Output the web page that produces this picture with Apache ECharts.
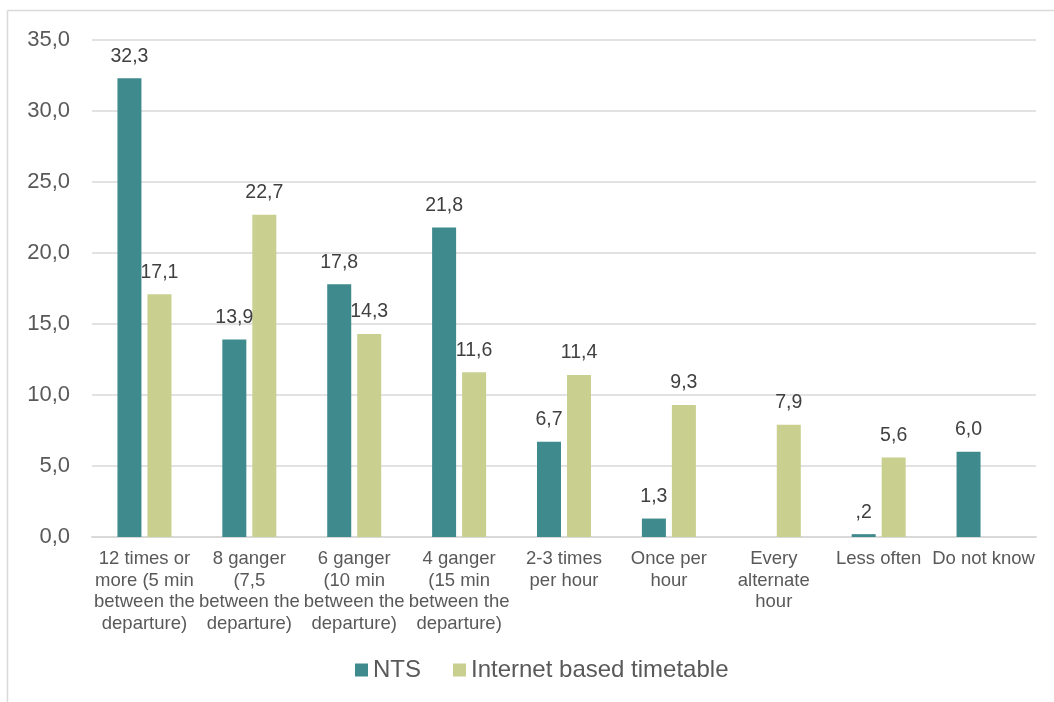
<!DOCTYPE html>
<html>
<head>
<meta charset="utf-8">
<style>
  html, body { margin: 0; padding: 0; background: #ffffff; }
  #chart { width: 1054px; height: 702px; }
</style>
<script src="https://cdn.jsdelivr.net/npm/echarts@6/dist/echarts.min.js"></script>
</head>
<body>
<div id="chart"></div>
<script>
// Departure frequency categories
const categories = [
  '12 times or\nmore (5 min\nbetween the\ndeparture)',
  '8 ganger\n(7,5\nbetween the\ndeparture)',
  '6 ganger\n(10 min\nbetween the\ndeparture)',
  '4 ganger\n(15 min\nbetween the\ndeparture)',
  '2-3 times\nper hour',
  'Once per\nhour',
  'Every\nalternate\nhour',
  'Less often',
  'Do not know'
];

// Percentages per source (null = no value)
const ntsValues = [32.3, 13.9, 17.8, 21.8, 6.7, 1.3, null, 0.2, 6.0];
const internetValues = [17.1, 22.7, 14.3, 11.6, 11.4, 9.3, 7.9, 5.6, null];

const seriesNames = ['NTS', 'Internet based timetable'];
const yTicks = { min: 0, max: 35, interval: 5 };

// Norwegian-style number: comma decimal, leading zero dropped
function fmt(v) {
  let s = Number(v).toFixed(1).replace('.', ',');
  if (s.startsWith('0,') && v !== 0) s = s.slice(1);
  return s;
}

const textColor = '#595959';
const font = 'Liberation Sans, Arial, sans-serif';

const chart = echarts.init(document.getElementById('chart'), null, { renderer: 'canvas' });

const labelCfg = {
  show: true,
  position: 'top',
  distance: 12,
  color: '#404040',
  fontSize: 19.5,
  fontFamily: font,
  formatter: p => (p.value == null ? '' : fmt(p.value))
};

chart.setOption({
  animation: false,
  backgroundColor: '#ffffff',
  textStyle: { fontFamily: font },
  graphic: [
    { type: 'line', shape: { x1: 7.5, y1: 10.5, x2: 1054, y2: 10.5 }, style: { stroke: '#d9d9d9', lineWidth: 1.5 } },
    { type: 'line', shape: { x1: 7.5, y1: 10.5, x2: 7.5, y2: 702 }, style: { stroke: '#d9d9d9', lineWidth: 1.5 } }
  ],
  grid: { left: 92, right: 18, top: 40, bottom: 165, containLabel: false },
  legend: {
    data: seriesNames,
    bottom: 15,
    left: 350,
    padding: [5, 5, 5, 5],
    itemWidth: 13,
    itemHeight: 13,
    itemGap: 32,
    icon: 'rect',
    textStyle: { fontSize: 24, color: textColor, fontFamily: font }
  },
  xAxis: {
    type: 'category',
    data: categories,
    axisLine: { show: true, lineStyle: { color: '#d9d9d9', width: 2 } },
    axisTick: { show: false },
    axisLabel: {
      interval: 0,
      color: textColor,
      fontSize: 18.5,
      lineHeight: 21.7,
      margin: 11,
      fontFamily: font
    }
  },
  yAxis: {
    type: 'value',
    min: yTicks.min,
    max: yTicks.max,
    interval: yTicks.interval,
    axisLine: { show: false },
    axisTick: { show: false },
    splitLine: { lineStyle: { color: '#d9d9d9', width: 1.5 } },
    axisLabel: {
      color: textColor,
      fontSize: 22,
      margin: 22,
      fontFamily: font,
      formatter: v => Number(v).toFixed(1).replace('.', ',')
    }
  },
  series: [
    {
      name: seriesNames[0],
      type: 'bar',
      data: ntsValues,
      barWidth: 24,
      barGap: '25%',
      itemStyle: { color: '#3f8a8c' },
      label: labelCfg
    },
    {
      name: seriesNames[1],
      type: 'bar',
      data: internetValues,
      barWidth: 24,
      barGap: '25%',
      itemStyle: { color: '#c9cf8f' },
      label: labelCfg
    }
  ]
});
</script>
</body>
</html>
